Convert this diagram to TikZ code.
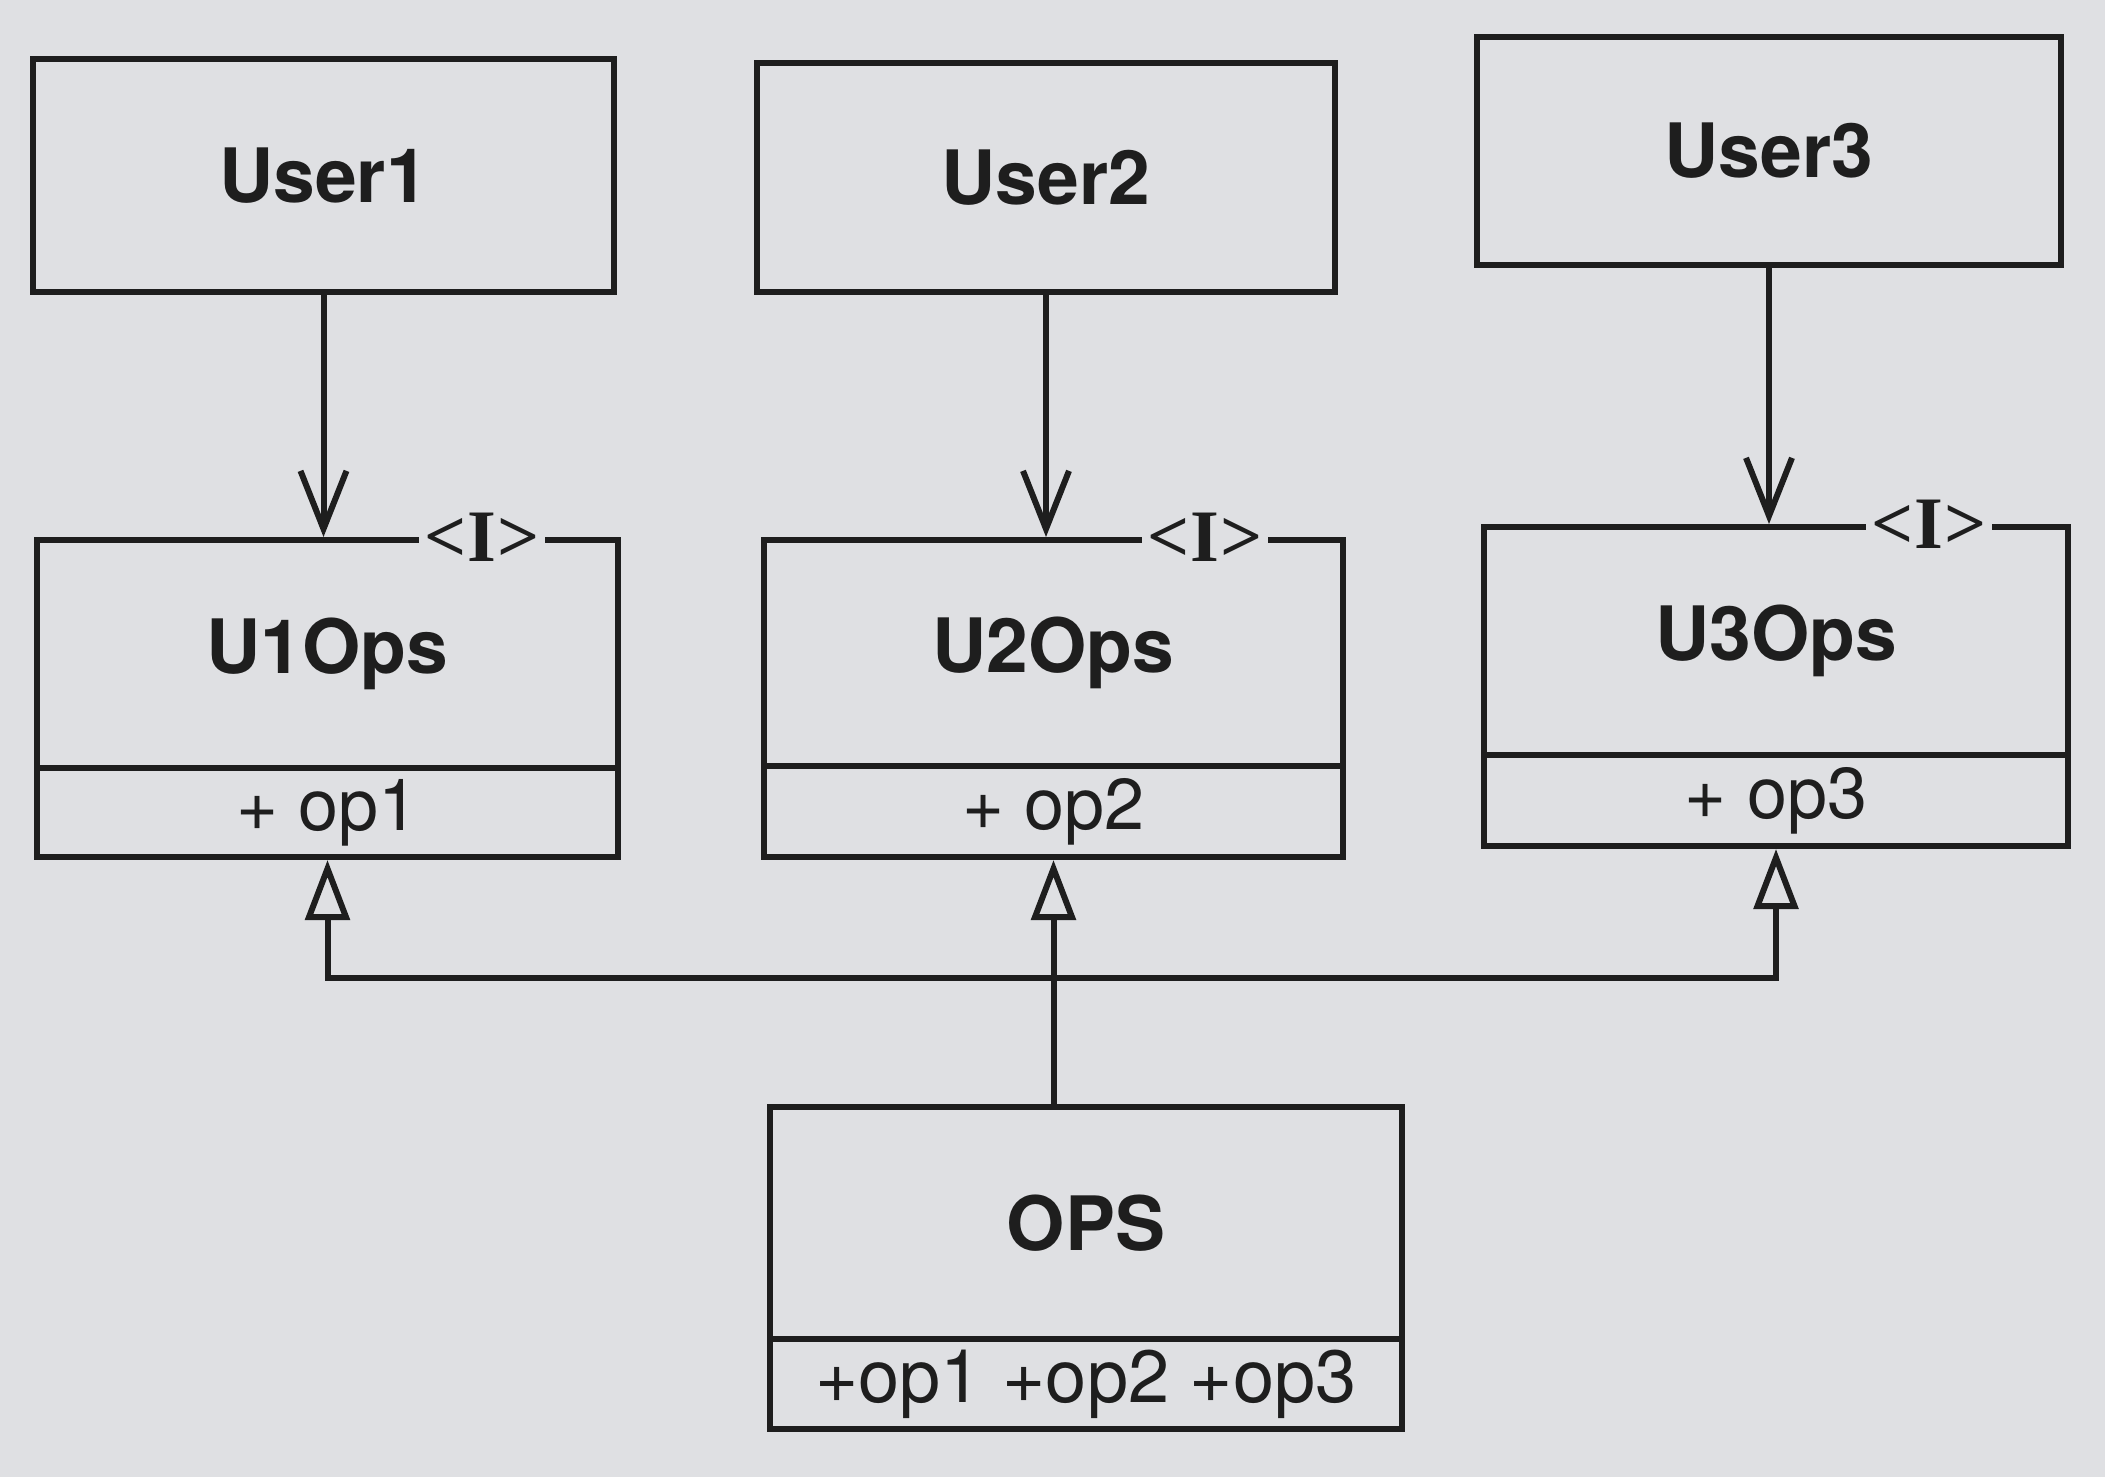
\documentclass[tikz,border=0pt]{standalone}
\usepackage{fontspec}
\setmainfont{TeX Gyre Heros}
\newfontfamily\lblfont{Liberation Serif}
\usetikzlibrary{arrows.meta}
\definecolor{bgc}{RGB}{223,224,227}
\definecolor{ink}{RGB}{30,30,30}
\begin{document}
\begin{tikzpicture}[x=1pt,y=-1pt,
  every node/.style={text=ink},
  namebox/.style={draw=ink, line width=6pt, anchor=north west, inner sep=0pt,
     font=\fontsize{75}{80}\selectfont\bfseries},
  methbox/.style={draw=ink, line width=6pt, anchor=north west, inner sep=0pt,
     font=\fontsize{72}{78}\selectfont},
  ilabel/.style={fill=bgc, inner xsep=5pt, inner ysep=0pt,
     font=\fontsize{74}{78}\selectfont\lblfont\bfseries},
  dep/.style={draw=ink, line width=6pt, -{Straight Barb[length=58pt, width=46pt]}},
  inh/.style={draw=ink, line width=6pt, -{Triangle[open, length=60pt, width=44pt]}}]
\useasboundingbox (0,0) rectangle (2105,1477);
\fill[bgc] (0,0) rectangle (2105,1477);

% users
\node[namebox, minimum width=581pt, minimum height=233pt] (user1) at (30,56) {User1};
\node[namebox, minimum width=578pt, minimum height=229pt] (user2) at (754,60) {User2};
\node[namebox, minimum width=584pt, minimum height=228pt] (user3) at (1474,34) {User3};

% interfaces
\node[namebox, minimum width=581pt, minimum height=228pt] (u1ops) at (34,537) {U1Ops};
\node[methbox, minimum width=581pt, minimum height=89pt] (u1m) at (34,765) {+ op1};
\node[namebox, minimum width=579pt, minimum height=226pt] (u2ops) at (761,537) {U2Ops};
\node[methbox, minimum width=579pt, minimum height=91pt] (u2m) at (761,763) {+ op2};
\node[namebox, minimum width=584pt, minimum height=228pt] (u3ops) at (1481,524) {U3Ops};
\node[methbox, minimum width=584pt, minimum height=91pt] (u3m) at (1481,752) {+ op3};

\node[ilabel] (u1i) at (482,537) {<\kern1pt I\kern1pt>};
\node[ilabel] (u2i) at (1205,537) {<\kern1pt I\kern1pt>};
\node[ilabel] (u3i) at (1929,524) {<\kern1pt I\kern1pt>};

% OPS
\node[namebox, minimum width=632pt, minimum height=232pt] (ops) at (767,1104) {OPS};
\node[methbox, minimum width=632pt, minimum height=90pt, font=\fontsize{74}{80}\selectfont] (opsm) at (767,1336) {+op1 +op2 +op3};

% dependencies
\draw[dep] (user1.south) -- (user1.south |- u1ops.north);
\draw[dep] (user2.south) -- (user2.south |- u2ops.north);
\draw[dep] (user3.south) -- (user3.south |- u3ops.north);

% realisation
\coordinate (bus) at (1054,978);
\draw[draw=ink, line width=6pt] (ops.north -| bus) -- (bus);
\draw[inh] (bus) -| (u1m.south);
\draw[inh] (bus) -- (bus -| u2m.south) -- (u2m.south);
\draw[inh] (bus) -| (u3m.south);
\end{tikzpicture}
\end{document}
